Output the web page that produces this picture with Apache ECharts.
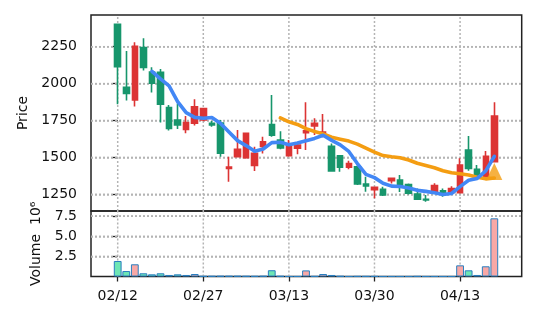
<!DOCTYPE html>
<html><head><meta charset="utf-8">
<script src="https://cdn.jsdelivr.net/npm/echarts@6/dist/echarts.min.js"></script>
<style>html,body{margin:0;padding:0;background:#fff}#c{width:537px;height:322px}</style>
</head><body><div id="c"></div>
<script>
// ---- data (index = trading-day position) ----
const opens  = [2402,1975,1889,2245,2079,2077,1837,1753,1689,1731,1753,1731,1733,1426,1505,1498,1445,1574,1723,1618,1511,1562,1667,1713,1660,1575,1511,1433,1437,1320,1282,1284,1342,1347,1316,1252,1216,1268,1274,1262,1261,1550,1419,1369,1471];
const highs  = [2405,2221,2280,2307,2110,2099,1855,1866,1780,1894,1836,1747,1753,1505,1686,1667,1573,1640,1923,1677,1618,1595,1873,1765,1794,1595,1515,1478,1445,1369,1303,1302,1362,1381,1323,1290,1245,1325,1290,1305,1494,1645,1449,1543,1873];
const lows   = [1860,1885,1845,2089,1940,1736,1682,1692,1663,1716,1745,1708,1505,1335,1500,1491,1408,1526,1640,1555,1505,1522,1550,1652,1636,1403,1403,1420,1313,1268,1223,1238,1324,1265,1249,1211,1200,1265,1234,1258,1255,1410,1370,1365,1465];
const closes = [2114,1934,2253,2110,2002,1860,1697,1720,1736,1843,1831,1720,1528,1435,1555,1663,1528,1606,1650,1564,1584,1584,1681,1731,1672,1408,1433,1459,1320,1306,1297,1245,1358,1308,1257,1216,1211,1310,1251,1289,1449,1426,1374,1507,1780];
const volumes = [1.93,0.68,1.52,0.40,0.27,0.40,0.19,0.27,0.19,0.31,0.04,0.05,0.06,0.06,0.06,0.05,0.04,0.06,0.78,0.05,0.01,0.01,0.76,0.03,0.31,0.19,0.05,0.01,0.03,0.03,0.03,0.01,0.01,0.01,0.01,0.03,0.01,0.01,0.01,0.01,1.39,0.77,0.19,1.27,7.24];
const ma5 = [null,null,null,null,2082.6,2031.8,1984.4,1877.8,1803.0,1771.2,1765.4,1770.0,1731.6,1671.4,1613.8,1580.2,1541.8,1557.4,1600.4,1602.2,1586.4,1597.6,1612.6,1628.8,1650.4,1615.2,1585.0,1540.6,1458.4,1385.2,1363.0,1325.4,1305.2,1302.8,1293.0,1276.8,1270.0,1260.4,1249.0,1255.4,1302.0,1345.0,1357.8,1409.0,1507.2];
const ma20 = [null,null,null,null,null,null,null,null,null,null,null,null,null,null,null,null,null,null,null,1767.5,1741.0,1723.5,1694.9,1675.9,1659.4,1636.8,1623.6,1610.6,1589.8,1562.9,1536.2,1512.5,1504.0,1497.6,1482.7,1460.4,1444.5,1429.7,1409.8,1396.0,1389.3,1381.4,1366.0,1354.8,1360.2];
const signalPoint = [44, 1404];
const tickIndex = [0, 10, 20, 30, 40];
const tickLabels = ['02/12', '02/27', '03/13', '03/30', '04/13'];
const priceTicks = [1250, 1500, 1750, 2000, 2250];
const volumeTicks = [2.5, 5.0, 7.5];

// ---- axis ranges ----
const xMin = -3.12, xMax = 47.2;
const pMin = 1136.9, pMax = 2464.8;
const vMin = 0, vMax = 8.15;

// ---- build series data ----
const UP = '#dc3434', DOWN = '#17966c';
const candleData = opens.map((o, i) => [i, o, closes[i], lows[i], highs[i]]);
const volData = volumes.map((v, i) => ({
  value: [i, v],
  itemStyle: { color: closes[i] >= opens[i] ? '#f8a8a6' : '#6ee6b4' }
}));
const toLine = arr => arr.map((v, i) => v == null ? null : [i, v]).filter(d => d);
const labelMap = {};
tickIndex.forEach((t, k) => labelMap[t] = tickLabels[k]);

const FONT = 'DejaVu Sans';
const gridStyle = { color: '#b4b4b4', width: 1.5, type: [2, 2] };

// reference grid lines drawn through the axes' own scales
function gridSeries(xi, yi, yTicks, y0, y1) {
  const out = [];
  yTicks.forEach(v => out.push({ type: 'line', xAxisIndex: xi, yAxisIndex: yi, z: 2,
    showSymbol: false, lineStyle: gridStyle, data: [[xMin, v], [xMax, v]] }));
  tickIndex.forEach(t => out.push({ type: 'line', xAxisIndex: xi, yAxisIndex: yi, z: 2,
    showSymbol: false, lineStyle: gridStyle, data: [[t, y0], [t, y1]] }));
  return out;
}

const chart = echarts.init(document.getElementById('c'), null, { renderer: 'canvas' });
chart.setOption({
  animation: false,
  grid: [
    { left: 91, right: 15.3, top: 15, height: 196, show: true, borderColor: '#222', borderWidth: 1.5 },
    { left: 91, right: 15.3, top: 211, height: 65.5, show: true, borderColor: '#222', borderWidth: 1.5 }
  ],
  xAxis: [
    { type: 'value', gridIndex: 0, min: xMin, max: xMax,
      axisLine: { show: false }, axisTick: { show: false }, axisLabel: { show: false },
      splitLine: { show: false } },
    { type: 'value', gridIndex: 1, min: xMin, max: xMax,
      axisLine: { show: false },
      axisTick: { show: true, length: 5, customValues: tickIndex, lineStyle: { color: '#222', width: 1.3 } },
      axisLabel: { show: true, customValues: tickIndex, margin: 13, fontFamily: FONT, fontSize: 14, color: '#111',
        formatter: v => labelMap[Math.round(v)] || '' },
      splitLine: { show: false } }
  ],
  yAxis: [
    { type: 'value', gridIndex: 0, min: pMin, max: pMax,
      name: 'Price', nameLocation: 'middle', nameGap: 55, nameRotate: 90,
      nameTextStyle: { fontFamily: FONT, fontSize: 14, color: '#111' },
      axisLine: { show: false },
      axisTick: { show: true, length: 5, customValues: priceTicks, lineStyle: { color: '#222', width: 1.3 } },
      axisLabel: { customValues: priceTicks, margin: 14, fontFamily: FONT, fontSize: 14, color: '#111',
        formatter: v => String(v) },
      splitLine: { show: true, lineStyle: gridStyle } },
    { type: 'value', gridIndex: 1, min: vMin, max: vMax,
      name: 'Volume  10\u2076', nameLocation: 'middle', nameGap: 48, nameRotate: 90,
      nameTextStyle: { fontFamily: FONT, fontSize: 14, color: '#111' },
      axisLine: { show: false },
      axisTick: { show: true, length: 5, customValues: volumeTicks, lineStyle: { color: '#222', width: 1.3 } },
      axisLabel: { customValues: volumeTicks, margin: 14, fontFamily: FONT, fontSize: 14, color: '#111',
        formatter: v => v.toFixed(1) },
      splitLine: { show: true, lineStyle: gridStyle } }
  ],
  series: [
    ...gridSeries(0, 0, priceTicks, pMin, pMax),
    ...gridSeries(1, 1, volumeTicks, vMin, vMax),
    { type: 'candlestick', xAxisIndex: 0, yAxisIndex: 0, data: candleData,
      encode: { x: 0, y: [1, 2, 3, 4] }, barWidth: 6, z: 2,
      itemStyle: { color: UP, color0: DOWN, borderColor: UP, borderColor0: DOWN, borderWidth: 1.6 } },
    { type: 'line', xAxisIndex: 0, yAxisIndex: 0, data: toLine(ma5), showSymbol: false, z: 4,
      lineStyle: { color: '#4287f5', width: 3.6, cap: 'round', join: 'round' } },
    { type: 'line', xAxisIndex: 0, yAxisIndex: 0, data: toLine(ma20), showSymbol: false, z: 3,
      lineStyle: { color: '#f49d12', width: 3.6, cap: 'round', join: 'round' } },
    { type: 'scatter', xAxisIndex: 0, yAxisIndex: 0, data: [signalPoint], symbol: 'triangle',
      symbolSize: [16, 17], z: 5, itemStyle: { color: '#f49d12' } },
    { type: 'bar', xAxisIndex: 1, yAxisIndex: 1, data: volData, barWidth: 7.8, z: 3,
      itemStyle: { borderColor: '#2a7fc0', borderWidth: 1 } }
  ]
});
</script></body></html>
